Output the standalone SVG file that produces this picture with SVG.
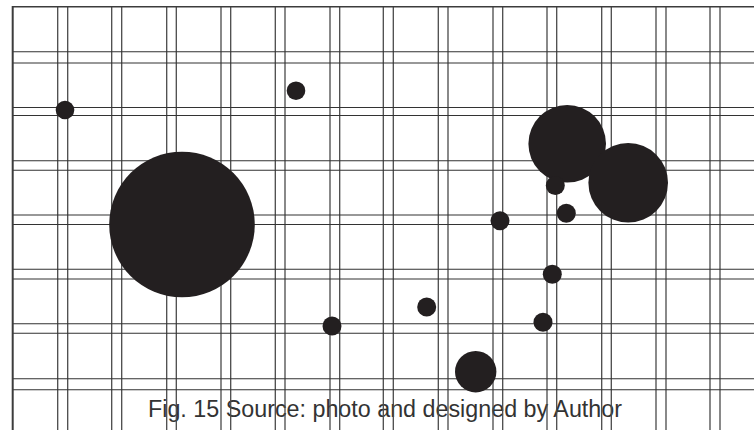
<svg xmlns="http://www.w3.org/2000/svg" width="754" height="430" viewBox="0 0 754 430">
<style>
.v{stroke:#4a4a4a;stroke-width:1.3;fill:none}
.h{stroke:#333;stroke-width:1.1;fill:none}
.b{stroke:#3c3c3c;fill:none}
.dot{fill:#231f20}
.cap{font-family:"Liberation Sans",Arial,sans-serif;font-size:23px;fill:#333}
</style>
<rect width="754" height="430" fill="#fff"/>
<text class="cap" x="148" y="417" textLength="474" lengthAdjust="spacingAndGlyphs">Fig. 15 Source: photo and designed by Author</text>
<g id="grid">
<g id="vertical">
<path class="v" d="M57.7 7V430M67.7 7V430M111.7 7V430M121.7 7V430M166.7 7V430M176.3 7V430M221 7V430M230.7 7V430M275.3 7V430M285 7V430M330 7V430M339.7 7V430M383.3 7V430M393.3 7V430M438.3 7V430M448 7V430M493 7V430M502.7 7V430M547 7V430M556.7 7V430M601.7 7V430M611.3 7V430M656 7V430M666 7V430M710 7V430M720 7V430"/>
</g>
<g id="horizontal">
<path class="h" d="M13 51.7H754M13 63H754M13 107.5H754M13 115.5H754M13 160.7H754M13 170.3H754M13 215H754M13 224.5H754M13 269.3H754M13 279H754M13 323.7H754M13 333.3H754M13 378.7H754M13 389.7H754"/>
</g>
<path class="b" stroke-width="1.6" d="M12.7 6.7H754"/>
<path class="b" stroke-width="2" d="M12.7 6V430"/>
</g>
<g id="circles">
<circle id="c1" class="dot" cx="65" cy="110" r="9.3"/>
<circle id="c2" class="dot" cx="296" cy="90.7" r="9.3"/>
<circle id="c3" class="dot" cx="182" cy="224.5" r="72.8"/>
<circle id="c4" class="dot" cx="567.2" cy="143.8" r="38.8"/>
<circle id="c5" class="dot" cx="628.2" cy="182.8" r="39.8"/>
<circle id="c6" class="dot" cx="555.3" cy="185.5" r="9.5"/>
<circle id="c7" class="dot" cx="566.3" cy="213.3" r="9.5"/>
<circle id="c8" class="dot" cx="500" cy="220.8" r="9.5"/>
<circle id="c9" class="dot" cx="552.3" cy="274.3" r="9.5"/>
<circle id="c10" class="dot" cx="543" cy="322.3" r="9.5"/>
<circle id="c11" class="dot" cx="426.7" cy="307" r="9.5"/>
<circle id="c12" class="dot" cx="332" cy="326" r="9.5"/>
<circle id="c13" class="dot" cx="475.7" cy="371.7" r="20.7"/>
</g>
</svg>
